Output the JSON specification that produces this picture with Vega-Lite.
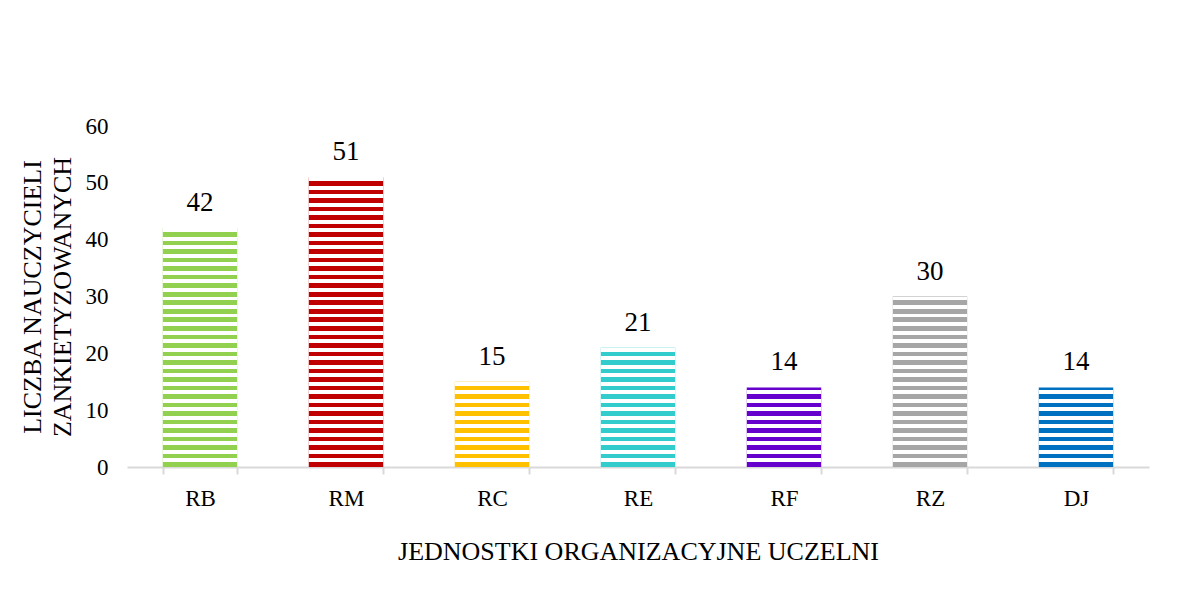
{
  "$schema": "https://vega.github.io/schema/vega-lite/v6.json",
  "width": 1022,
  "height": 341,
  "autosize": {"type": "none"},
  "padding": {"left": 127, "top": 126, "right": 42, "bottom": 127},
  "background": "#ffffff",
  "config": {"view": {"stroke": null}, "font": "Liberation Serif"},
  "data": {"values": [
    {"unit": "RB", "value": 42},
    {"unit": "RM", "value": 51},
    {"unit": "RC", "value": 15},
    {"unit": "RE", "value": 21},
    {"unit": "RF", "value": 14},
    {"unit": "RZ", "value": 30},
    {"unit": "DJ", "value": 14}
  ]},
  "encoding": {
    "x": {
      "field": "unit", "type": "nominal", "sort": null,
      "scale": {"paddingInner": 0.49, "paddingOuter": 0.245},
      "axis": {
        "title": "JEDNOSTKI ORGANIZACYJNE UCZELNI",
        "titleFont": "Liberation Serif", "titleFontSize": 26, "titleFontWeight": "normal", "titleColor": "#000000",
        "titlePadding": 28,
        "labelFont": "Liberation Serif", "labelFontSize": 23, "labelColor": "#000000", "labelAngle": 0,
        "labelPadding": 13,
        "domainColor": "#d9d9d9", "domainWidth": 2,
        "tickColor": "#d9d9d9", "tickWidth": 2, "tickSize": 7, "tickBand": "extent",
        "grid": false
      }
    }
  },
  "layer": [
    {
      "mark": {"type": "bar"},
      "encoding": {
        "y": {
          "field": "value", "type": "quantitative",
          "scale": {"domain": [0, 60], "nice": false},
          "axis": {
            "values": [0, 10, 20, 30, 40, 50, 60],
            "title": ["LICZBA NAUCZYCIELI", "ZANKIETYZOWANYCH"],
            "titleFont": "Liberation Serif", "titleFontSize": 26, "titleFontWeight": "normal", "titleColor": "#000000",
            "titleLineHeight": 30, "titlePadding": 10,
            "labelFont": "Liberation Serif", "labelFontSize": 23, "labelColor": "#000000",
            "labelPadding": 19,
            "domain": false, "ticks": false, "grid": false
          }
        },
        "color": {
          "field": "unit", "type": "nominal", "legend": null,
          "scale": {
            "domain": ["RB", "RM", "RC", "RE", "RF", "RZ", "DJ"],
            "range": ["#92d050", "#c00000", "#ffc000", "#33cccc", "#6600cc", "#a6a6a6", "#0070c0"]
          }
        }
      }
    },
    {
      "mark": {
        "type": "bar",
        "fill": {
          "gradient": "linear", "x1": 0, "y1": 1, "x2": 0, "y2": 0,
          "stops": [
            {"offset": 0, "color": "rgba(255,255,255,0)"}, {"offset": 0.0135, "color": "rgba(255,255,255,0)"}, {"offset": 0.0135, "color": "#ffffff"}, {"offset": 0.025, "color": "#ffffff"},
            {"offset": 0.025, "color": "rgba(255,255,255,0)"}, {"offset": 0.0385, "color": "rgba(255,255,255,0)"}, {"offset": 0.0385, "color": "#ffffff"}, {"offset": 0.05, "color": "#ffffff"},
            {"offset": 0.05, "color": "rgba(255,255,255,0)"}, {"offset": 0.0635, "color": "rgba(255,255,255,0)"}, {"offset": 0.0635, "color": "#ffffff"}, {"offset": 0.075, "color": "#ffffff"},
            {"offset": 0.075, "color": "rgba(255,255,255,0)"}, {"offset": 0.0885, "color": "rgba(255,255,255,0)"}, {"offset": 0.0885, "color": "#ffffff"}, {"offset": 0.1, "color": "#ffffff"},
            {"offset": 0.1, "color": "rgba(255,255,255,0)"}, {"offset": 0.1135, "color": "rgba(255,255,255,0)"}, {"offset": 0.1135, "color": "#ffffff"}, {"offset": 0.125, "color": "#ffffff"},
            {"offset": 0.125, "color": "rgba(255,255,255,0)"}, {"offset": 0.1385, "color": "rgba(255,255,255,0)"}, {"offset": 0.1385, "color": "#ffffff"}, {"offset": 0.15, "color": "#ffffff"},
            {"offset": 0.15, "color": "rgba(255,255,255,0)"}, {"offset": 0.1635, "color": "rgba(255,255,255,0)"}, {"offset": 0.1635, "color": "#ffffff"}, {"offset": 0.175, "color": "#ffffff"},
            {"offset": 0.175, "color": "rgba(255,255,255,0)"}, {"offset": 0.1885, "color": "rgba(255,255,255,0)"}, {"offset": 0.1885, "color": "#ffffff"}, {"offset": 0.2, "color": "#ffffff"},
            {"offset": 0.2, "color": "rgba(255,255,255,0)"}, {"offset": 0.2135, "color": "rgba(255,255,255,0)"}, {"offset": 0.2135, "color": "#ffffff"}, {"offset": 0.225, "color": "#ffffff"},
            {"offset": 0.225, "color": "rgba(255,255,255,0)"}, {"offset": 0.2385, "color": "rgba(255,255,255,0)"}, {"offset": 0.2385, "color": "#ffffff"}, {"offset": 0.25, "color": "#ffffff"},
            {"offset": 0.25, "color": "rgba(255,255,255,0)"}, {"offset": 0.2635, "color": "rgba(255,255,255,0)"}, {"offset": 0.2635, "color": "#ffffff"}, {"offset": 0.275, "color": "#ffffff"},
            {"offset": 0.275, "color": "rgba(255,255,255,0)"}, {"offset": 0.2885, "color": "rgba(255,255,255,0)"}, {"offset": 0.2885, "color": "#ffffff"}, {"offset": 0.3, "color": "#ffffff"},
            {"offset": 0.3, "color": "rgba(255,255,255,0)"}, {"offset": 0.3135, "color": "rgba(255,255,255,0)"}, {"offset": 0.3135, "color": "#ffffff"}, {"offset": 0.325, "color": "#ffffff"},
            {"offset": 0.325, "color": "rgba(255,255,255,0)"}, {"offset": 0.3385, "color": "rgba(255,255,255,0)"}, {"offset": 0.3385, "color": "#ffffff"}, {"offset": 0.35, "color": "#ffffff"},
            {"offset": 0.35, "color": "rgba(255,255,255,0)"}, {"offset": 0.3635, "color": "rgba(255,255,255,0)"}, {"offset": 0.3635, "color": "#ffffff"}, {"offset": 0.375, "color": "#ffffff"},
            {"offset": 0.375, "color": "rgba(255,255,255,0)"}, {"offset": 0.3885, "color": "rgba(255,255,255,0)"}, {"offset": 0.3885, "color": "#ffffff"}, {"offset": 0.4, "color": "#ffffff"},
            {"offset": 0.4, "color": "rgba(255,255,255,0)"}, {"offset": 0.4135, "color": "rgba(255,255,255,0)"}, {"offset": 0.4135, "color": "#ffffff"}, {"offset": 0.425, "color": "#ffffff"},
            {"offset": 0.425, "color": "rgba(255,255,255,0)"}, {"offset": 0.4385, "color": "rgba(255,255,255,0)"}, {"offset": 0.4385, "color": "#ffffff"}, {"offset": 0.45, "color": "#ffffff"},
            {"offset": 0.45, "color": "rgba(255,255,255,0)"}, {"offset": 0.4635, "color": "rgba(255,255,255,0)"}, {"offset": 0.4635, "color": "#ffffff"}, {"offset": 0.475, "color": "#ffffff"},
            {"offset": 0.475, "color": "rgba(255,255,255,0)"}, {"offset": 0.4885, "color": "rgba(255,255,255,0)"}, {"offset": 0.4885, "color": "#ffffff"}, {"offset": 0.5, "color": "#ffffff"},
            {"offset": 0.5, "color": "rgba(255,255,255,0)"}, {"offset": 0.5135, "color": "rgba(255,255,255,0)"}, {"offset": 0.5135, "color": "#ffffff"}, {"offset": 0.525, "color": "#ffffff"},
            {"offset": 0.525, "color": "rgba(255,255,255,0)"}, {"offset": 0.5385, "color": "rgba(255,255,255,0)"}, {"offset": 0.5385, "color": "#ffffff"}, {"offset": 0.55, "color": "#ffffff"},
            {"offset": 0.55, "color": "rgba(255,255,255,0)"}, {"offset": 0.5635, "color": "rgba(255,255,255,0)"}, {"offset": 0.5635, "color": "#ffffff"}, {"offset": 0.575, "color": "#ffffff"},
            {"offset": 0.575, "color": "rgba(255,255,255,0)"}, {"offset": 0.5885, "color": "rgba(255,255,255,0)"}, {"offset": 0.5885, "color": "#ffffff"}, {"offset": 0.6, "color": "#ffffff"},
            {"offset": 0.6, "color": "rgba(255,255,255,0)"}, {"offset": 0.6135, "color": "rgba(255,255,255,0)"}, {"offset": 0.6135, "color": "#ffffff"}, {"offset": 0.625, "color": "#ffffff"},
            {"offset": 0.625, "color": "rgba(255,255,255,0)"}, {"offset": 0.6385, "color": "rgba(255,255,255,0)"}, {"offset": 0.6385, "color": "#ffffff"}, {"offset": 0.65, "color": "#ffffff"},
            {"offset": 0.65, "color": "rgba(255,255,255,0)"}, {"offset": 0.6635, "color": "rgba(255,255,255,0)"}, {"offset": 0.6635, "color": "#ffffff"}, {"offset": 0.675, "color": "#ffffff"},
            {"offset": 0.675, "color": "rgba(255,255,255,0)"}, {"offset": 0.6885, "color": "rgba(255,255,255,0)"}, {"offset": 0.6885, "color": "#ffffff"}, {"offset": 0.7, "color": "#ffffff"},
            {"offset": 0.7, "color": "rgba(255,255,255,0)"}, {"offset": 0.7135, "color": "rgba(255,255,255,0)"}, {"offset": 0.7135, "color": "#ffffff"}, {"offset": 0.725, "color": "#ffffff"},
            {"offset": 0.725, "color": "rgba(255,255,255,0)"}, {"offset": 0.7385, "color": "rgba(255,255,255,0)"}, {"offset": 0.7385, "color": "#ffffff"}, {"offset": 0.75, "color": "#ffffff"},
            {"offset": 0.75, "color": "rgba(255,255,255,0)"}, {"offset": 0.7635, "color": "rgba(255,255,255,0)"}, {"offset": 0.7635, "color": "#ffffff"}, {"offset": 0.775, "color": "#ffffff"},
            {"offset": 0.775, "color": "rgba(255,255,255,0)"}, {"offset": 0.7885, "color": "rgba(255,255,255,0)"}, {"offset": 0.7885, "color": "#ffffff"}, {"offset": 0.8, "color": "#ffffff"},
            {"offset": 0.8, "color": "rgba(255,255,255,0)"}, {"offset": 0.8135, "color": "rgba(255,255,255,0)"}, {"offset": 0.8135, "color": "#ffffff"}, {"offset": 0.825, "color": "#ffffff"},
            {"offset": 0.825, "color": "rgba(255,255,255,0)"}, {"offset": 0.8385, "color": "rgba(255,255,255,0)"}, {"offset": 0.8385, "color": "#ffffff"}, {"offset": 0.85, "color": "#ffffff"},
            {"offset": 0.85, "color": "rgba(255,255,255,0)"}, {"offset": 0.8635, "color": "rgba(255,255,255,0)"}, {"offset": 0.8635, "color": "#ffffff"}, {"offset": 0.875, "color": "#ffffff"},
            {"offset": 0.875, "color": "rgba(255,255,255,0)"}, {"offset": 1, "color": "rgba(255,255,255,0)"}
          ]
        }
      },
      "encoding": {
        "y": {"datum": 60, "type": "quantitative"},
        "y2": {"datum": 0}
      }
    },
    {
      "mark": {"type": "text", "baseline": "alphabetic", "dy": -17, "font": "Liberation Serif", "fontSize": 27, "color": "#000000"},
      "encoding": {
        "y": {"field": "value", "type": "quantitative"},
        "text": {"field": "value", "type": "quantitative"}
      }
    }
  ]
}
